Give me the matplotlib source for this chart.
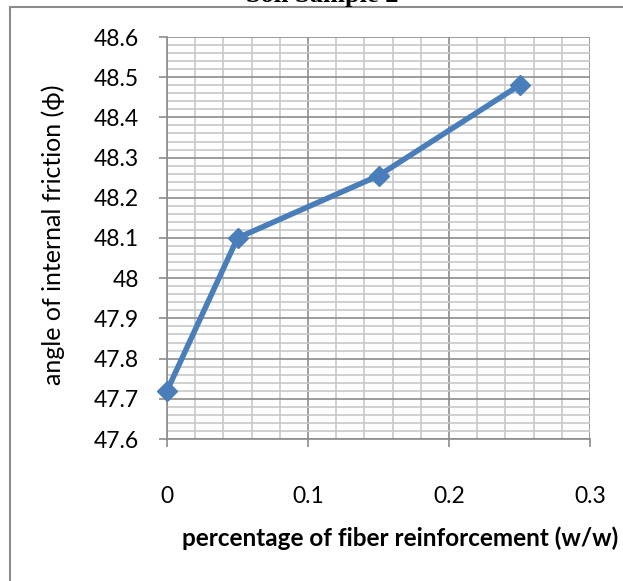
import matplotlib
matplotlib.use("Agg")
import matplotlib.pyplot as plt
from matplotlib.patches import Rectangle
from matplotlib.ticker import MultipleLocator

# data
fiber_pct = [0, 0.05, 0.15, 0.25]
phi = [47.72, 48.1, 48.255, 48.48]

title = "Soil Sample 2"
x_label = "percentage of fiber reinforcement (w/w)"
y_label = "angle of internal friction (\u03d5)"

plt.rcParams['font.family'] = ['Lato', 'DejaVu Sans']

W, H = 623, 581
fig = plt.figure(figsize=(W / 100, H / 100), dpi=100)

# chart area border (runs off the right and bottom edges)
fig.patches.append(Rectangle((10 / W, -0.1), 1.2, 1 - 7 / H + 0.1,
                             transform=fig.transFigure, fill=False,
                             edgecolor='#8c8c8c', linewidth=1.5))

# title sits mostly above the picture, only its lower part shows
fig.text(322 / W, 1 - 2 / H, title, ha='center', va='baseline',
         fontsize=19, fontweight='bold', family='Liberation Serif')

ax = fig.add_axes([167 / W, 1 - 439 / H, (590 - 167) / W, (439 - 37) / H])

ax.plot(fiber_pct, phi, color='#4a7ebb', linewidth=4, marker='D',
        markersize=10.5, zorder=5, clip_on=False)

ax.set_xlim(0, 0.3)
ax.set_ylim(47.6, 48.6)
ax.xaxis.set_major_locator(MultipleLocator(0.1))
ax.xaxis.set_minor_locator(MultipleLocator(0.02))
ax.yaxis.set_major_locator(MultipleLocator(0.1))
ax.yaxis.set_minor_locator(MultipleLocator(0.02))

ax.xaxis.set_major_formatter(plt.FuncFormatter(lambda v, p: f"{v:g}"))
ax.yaxis.set_major_formatter(plt.FuncFormatter(lambda v, p: f"{v:g}"))

ax.grid(which='major', color='#8c8c8c', linewidth=1.2)
ax.grid(which='minor', color='#c8c8c8', linewidth=1.2)
ax.set_axisbelow(True)

for side in ['top', 'right']:
    ax.spines[side].set_visible(False)
for side in ['left', 'bottom']:
    ax.spines[side].set_color('#8c8c8c')
    ax.spines[side].set_linewidth(1.2)

ax.tick_params(which='major', length=6, width=1.2, color='#8c8c8c',
               labelsize=16.5, labelcolor='black')
ax.tick_params(axis='x', which='major', pad=28)
ax.tick_params(axis='y', which='major', pad=14)
ax.tick_params(which='minor', length=0)

fig.text(400 / W, 1 - 538 / H, x_label, ha='center', va='center',
         fontsize=17.5, fontweight='bold')
fig.text(53 / W, 1 - 235 / H, y_label, ha='center', va='center',
         rotation=90, fontsize=18)

fig.savefig("out.png", dpi=100, facecolor='white')
